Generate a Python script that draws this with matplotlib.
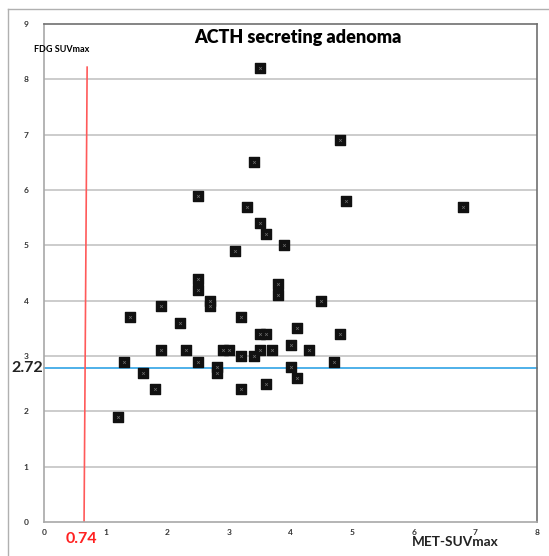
import numpy as np
import matplotlib
matplotlib.use('Agg')
import matplotlib.pyplot as plt
from matplotlib.lines import Line2D

plt.rcParams['font.family'] = ['Lato', 'DejaVu Sans']

# MET-SUVmax (x) and FDG-SUVmax (y) of each adenoma
met_suv = [3.5, 4.8, 3.4, 2.5, 4.9, 3.3, 6.8, 3.5, 3.6, 3.9, 3.1, 2.5, 3.8, 2.5, 3.8, 2.7,
           4.5, 2.7, 1.9, 1.4, 3.2, 2.2, 4.1, 3.5, 3.6, 4.8, 4.0, 1.9, 2.3, 2.9, 3.0, 3.5,
           3.7, 4.3, 3.2, 3.4, 1.3, 2.5, 4.7, 2.8, 4.0, 1.6, 2.8, 4.1, 3.6, 1.8, 3.2, 1.2]
fdg_suv = [8.2, 6.9, 6.5, 5.9, 5.8, 5.7, 5.7, 5.4, 5.2, 5.0, 4.9, 4.4, 4.3, 4.2, 4.1, 4.0,
           4.0, 3.9, 3.9, 3.7, 3.7, 3.6, 3.5, 3.4, 3.4, 3.4, 3.2, 3.1, 3.1, 3.1, 3.1, 3.1,
           3.1, 3.1, 3.0, 3.0, 2.9, 2.9, 2.9, 2.8, 2.8, 2.7, 2.7, 2.6, 2.5, 2.4, 2.4, 1.9]

# cut-off lines (as drawn in the picture, labels show 0.74 / 2.72)
met_cut_x = [0.65, 0.70]
met_cut_y = [0, 8.22]
fdg_cut = 2.78
x_ticks = list(range(0, 9))
y_ticks = list(range(0, 10))

fig = plt.figure(figsize=(5.49, 5.56), dpi=100)
ax = fig.add_axes([44/549, 34/556, 493/549, 498/556])

ax.set_xlim(0, 8)
ax.set_ylim(0, 9)
for yv in y_ticks[1:-1]:
    ax.axhline(yv, color='#c4c4c4', lw=1.2, zorder=1)

ax.axhline(fdg_cut, color='#1e9be3', lw=1.1, zorder=2, clip_on=False)
ax.plot(met_cut_x, met_cut_y, color='#ff5a5a', lw=1.2, zorder=2)

ax.scatter(met_suv, fdg_suv, marker='s', s=50, color='#111111', zorder=3)
ax.scatter(met_suv, fdg_suv, marker='x', s=4, color='#6a6a6a', lw=0.5, zorder=4)

ax.set_xticks(x_ticks)
ax.set_yticks(y_ticks)
ax.tick_params(length=0, labelsize=6, labelcolor='#333333')
ax.tick_params(axis='y', pad=11)
ax.tick_params(axis='x', pad=5)
for lab in ax.get_xticklabels() + ax.get_yticklabels():
    lab.set_fontweight('bold')

ax.spines['left'].set_color('#a8a8a8')
ax.spines['bottom'].set_color('#a8a8a8')
ax.spines['top'].set_color('#707070')
ax.spines['right'].set_color('#707070')
for s in ax.spines.values():
    s.set_linewidth(1.2)

fig.text(298/549, 1 - 38/556, 'ACTH secreting adenoma', ha='center', va='center',
         fontsize=13, fontweight='heavy')
fig.text(34/549, 1 - 50/556, 'FDG SUVmax', ha='left', va='center',
         fontsize=6.5, fontweight='bold')
fig.text(412/549, 1 - 542/556, 'MET-SUVmax', ha='left', va='center',
         fontsize=9.8, fontweight='bold', color='#222222')
fig.text(11/549, 1 - 368/556, '2.72', ha='left', va='center',
         fontsize=11.5, fontweight='bold', color='#222222')
fig.text(66/549, 1 - 539/556, '0.74', ha='left', va='center',
         fontsize=11.5, fontweight='bold', color='#ff2020')

# outer frame
fig.add_artist(Line2D([7.5/549, 7.5/549], [0, 1 - 9/556], color='#b0b0b0', lw=1))
fig.add_artist(Line2D([7.5/549, 1], [1 - 9/556, 1 - 9/556], color='#b0b0b0', lw=1))

fig.savefig('out.png', dpi=100)
